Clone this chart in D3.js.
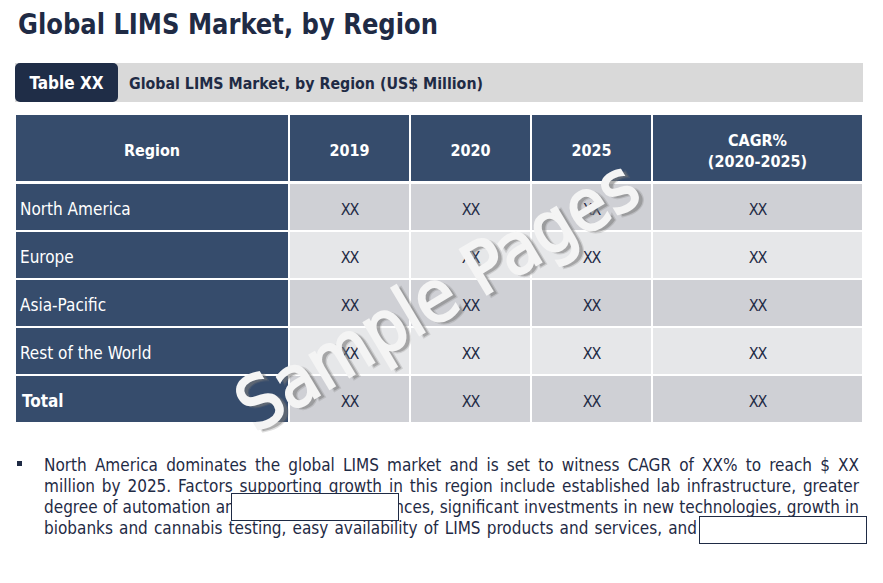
<!DOCTYPE html>
<html><head><meta charset="utf-8">
<script src="https://cdn.jsdelivr.net/npm/d3@7"></script>
<style>
html,body{margin:0;padding:0;background:#fff;}
svg{display:block;}
</style></head>
<body>
<svg id="c" width="883" height="583"></svg>
<script>
const title = "Global LIMS Market, by Region";
const tableTag = "Table XX";
const tableCaption = "Global LIMS Market, by Region (US$ Million)";
const columns = ["Region", "2019", "2020", "2025", "CAGR%\n(2020-2025)"];
const regions = ["North America", "Europe", "Asia-Pacific", "Rest of the World", "Total"];
const v2019 = ["XX", "XX", "XX", "XX", "XX"];
const v2020 = ["XX", "XX", "XX", "XX", "XX"];
const v2025 = ["XX", "XX", "XX", "XX", "XX"];
const cagr = ["XX", "XX", "XX", "XX", "XX"];
const bulletLines = [
  "North America dominates the global LIMS market and is set to witness CAGR of XX% to reach $ XX",
  "million by 2025. Factors supporting growth in this region include established lab infrastructure, greater",
  "degree of automation and technological advances, significant investments in new technologies, growth in",
  "biobanks and cannabis testing, easy availability of LIMS products and services, and"
];
const watermark = "Sample Pages";

const FONT = "'DejaVu Sans Condensed','DejaVu Sans',sans-serif";
const NAVY = "#1f2b45";
const HEAD = "#364c6c";
const svg = d3.select("#c");

// Title
svg.append("text").attr("x", 18).attr("y", 34)
  .attr("font-family", FONT).attr("font-weight", "bold").attr("font-size", 28)
  .attr("textLength", 420).attr("lengthAdjust", "spacingAndGlyphs")
  .attr("fill", NAVY).text(title);

// Caption bar
svg.append("rect").attr("x", 15).attr("y", 63).attr("width", 848).attr("height", 39).attr("fill", "#d9d9d9");
svg.append("rect").attr("x", 15).attr("y", 63).attr("width", 103).attr("height", 39).attr("rx", 5).attr("fill", "#1f2d47");
svg.append("text").attr("x", 66.5).attr("y", 89).attr("text-anchor", "middle")
  .attr("font-family", FONT).attr("font-weight", "bold").attr("font-size", 17)
  .attr("fill", "#fff").text(tableTag);
svg.append("text").attr("x", 129).attr("y", 89)
  .attr("font-family", FONT).attr("font-weight", "bold").attr("font-size", 16)
  .attr("textLength", 354).attr("lengthAdjust", "spacingAndGlyphs")
  .attr("fill", NAVY).text(tableCaption);

// Table
const colEdges = [15, 289, 410, 531, 652, 863];
const x = d3.scaleOrdinal().domain(columns).range(colEdges.slice(0, 5));
const xw = d3.scaleOrdinal().domain(columns).range(colEdges.slice(1).map((e, i) => e - colEdges[i]));
const y = d3.scaleBand().domain(regions).range([183, 423]).paddingInner(0);
const g = svg.append("g");

// header
columns.forEach((c, i) => {
  g.append("rect").attr("x", x(c)).attr("y", 114).attr("width", xw(c)).attr("height", 68)
    .attr("fill", HEAD).attr("stroke", "#fff").attr("stroke-width", 2);
  const lines = c.split("\n");
  const t = g.append("text").attr("x", x(c) + xw(c) / 2).attr("text-anchor", "middle")
    .attr("font-family", FONT).attr("font-weight", "bold").attr("font-size", 16).attr("fill", "#fff");
  lines.forEach((l, k) => {
    t.append("tspan").attr("x", x(c) + xw(c) / 2)
      .attr("y", 148 + 8 + (k - (lines.length - 1) / 2) * 21).text(l);
  });
});

const rows = regions.map((r, i) => [r, v2019[i], v2020[i], v2025[i], cagr[i]]);
rows.forEach((row, ri) => {
  const r = regions[ri];
  row.forEach((val, ci) => {
    const c = columns[ci];
    const fill = ci === 0 ? HEAD : (ri % 2 === 0 ? "#cfd0d5" : "#e6e7e9");
    g.append("rect").attr("x", x(c)).attr("y", y(r)).attr("width", xw(c)).attr("height", y.bandwidth())
      .attr("fill", fill).attr("stroke", "#fff").attr("stroke-width", 2);
    const t = g.append("text").attr("y", y(r) + y.bandwidth() / 2 + 7.5)
      .attr("font-family", FONT);
    if (ci === 0) {
      t.attr("x", x(c) + (r === "Total" ? 7 : 5)).attr("fill", "#fff").attr("font-size", 17)
        .attr("font-weight", r === "Total" ? "bold" : "normal").text(val);
    } else {
      t.attr("x", x(c) + xw(c) / 2).attr("text-anchor", "middle").attr("fill", NAVY).attr("font-size", 16)
        .style("letter-spacing", "-1px").text(val);
    }
  });
});

// Watermark
const wm = svg.append("g").attr("transform", "translate(440,300) rotate(-31)");
wm.append("text").attr("x", 3).attr("y", 4).attr("text-anchor", "middle")
  .attr("font-family", FONT).attr("font-size", 72).attr("fill", "#7a7a7a").attr("opacity", 0.6)
  .attr("stroke", "#7a7a7a").attr("stroke-width", 2.5).attr("stroke-opacity", 0.4)
  .attr("dominant-baseline", "middle").text(watermark);
wm.append("text").attr("x", 0).attr("y", 0).attr("text-anchor", "middle")
  .attr("font-family", FONT).attr("font-size", 72).attr("fill", "#f4f4f4")
  .attr("stroke", "#f4f4f4").attr("stroke-width", 2)
  .attr("dominant-baseline", "middle").text(watermark);

// Bullet paragraph (justified, line breaks as in the source)
svg.append("rect").attr("x", 17).attr("y", 461).attr("width", 5).attr("height", 5).attr("fill", NAVY);
const left = 44, right = 859, lastRight = 697, lineH = 21, firstBase = 471, fs = 17;
const para = svg.append("g");
const tmp = para.append("text").attr("font-family", FONT).attr("font-size", fs);
function w(s) { tmp.text(s); return tmp.node().getComputedTextLength(); }
const measured = bulletLines.map(l => l.split(" ").map(wd => ({ wd, width: w(wd) })));
tmp.remove();
measured.forEach((ln, li) => {
  const total = d3.sum(ln, d => d.width);
  const last = li === measured.length - 1;
  const gap = ((last ? lastRight : right) - left - total) / (ln.length - 1);
  let xx = left;
  ln.forEach(d => {
    para.append("text").attr("x", xx).attr("y", firstBase + li * lineH)
      .attr("font-family", FONT).attr("font-size", fs)
      .attr("fill", NAVY).text(d.wd);
    xx += d.width + gap;
  });
});
// mask boxes
svg.append("rect").attr("x", 231.5).attr("y", 493.5).attr("width", 167).attr("height", 27)
  .attr("fill", "#fff").attr("stroke", NAVY).attr("stroke-width", 1);
svg.append("rect").attr("x", 699.5).attr("y", 516.5).attr("width", 167).attr("height", 27)
  .attr("fill", "#fff").attr("stroke", NAVY).attr("stroke-width", 1);
</script>
</body></html>
